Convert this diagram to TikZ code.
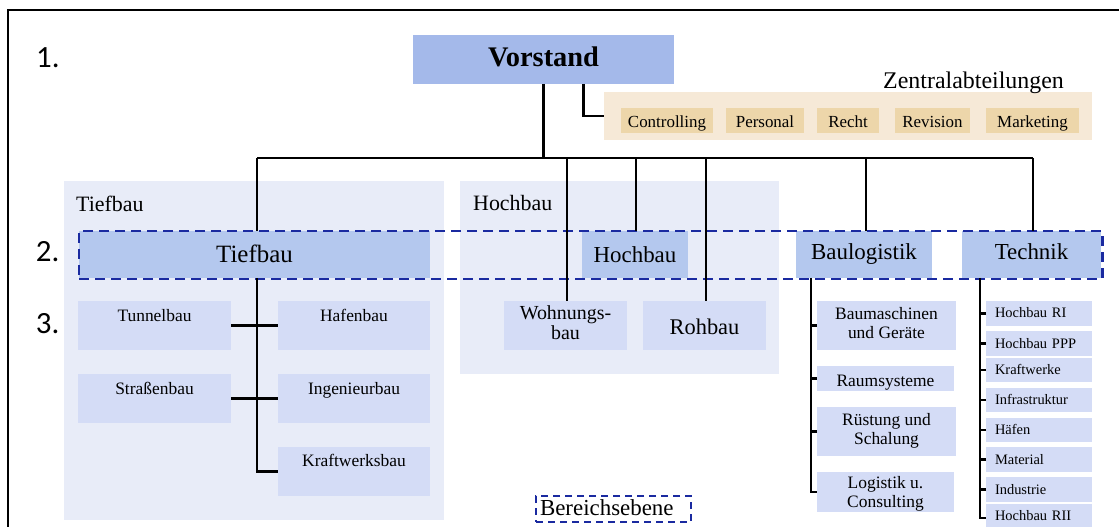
\documentclass[tikz,border=0pt]{standalone}
\usepackage{fontspec}
\setmainfont{Liberation Serif}
\newfontfamily\numfont{Carlito}
\usetikzlibrary{calc}

\definecolor{vorc}{HTML}{A4B9EA}
\definecolor{lvlc}{HTML}{B4C8EE}
\definecolor{areac}{HTML}{E8ECF8}
\definecolor{subc}{HTML}{D4DCF6}
\definecolor{zbg}{HTML}{F6E9D7}
\definecolor{zbox}{HTML}{EDD6AA}
\definecolor{dashc}{HTML}{1A2AA0}

\tikzset{
  % box placed by its upper left corner, given width and height
  box/.style 2 args={anchor=north west, inner sep=0pt, outer sep=0pt,
    minimum width=#1bp, minimum height=#2bp},
  % offset of the (last) text baseline from the box centre
  off/.code={\pgfmathsetmacro\tmpH{12+#1}\pgfmathsetmacro\tmpD{12-#1}%
    \edef\tmp{\noexpand\tikzset{text height=\tmpH bp, text depth=\tmpD bp}}\tmp},
  conn/.style={draw=black, line width=2.3pt},
  areabox/.style={fill=areac},
  toplvl/.style={fill=vorc, font=\bfseries\fontsize{28.5}{30}\selectfont},
  lvltwo/.style={fill=lvlc, font=\fontsize{23}{24}\selectfont},
  zsmall/.style={fill=zbox, font=\fontsize{17}{18}\selectfont},
  subbox/.style={fill=subc, font=\fontsize{17.5}{19}\selectfont, align=center},
  techbox/.style={fill=subc, font=\fontsize{14.5}{16}\selectfont,
    align=left, text width=88bp, inner xsep=9bp},
  arealbl/.style={anchor=base west, inner sep=0pt, font=\fontsize{22}{24}\selectfont},
  numlbl/.style={anchor=base west, inner sep=0pt, font=\numfont\fontsize{31}{33}\selectfont},
  ebene/.style={draw=dashc, line width=3pt, dash pattern=on 10bp off 6bp},
}

\begin{document}
\begin{tikzpicture}[x=1bp, y=-1bp]
\useasboundingbox (0,0) rectangle (1119,527);
\path[clip] (0,0) rectangle (1119,527);

% outer frame
\draw[line width=2.2pt] (8,540) -- (8,10) -- (1125,10);

% level numbers
\node[numlbl] (n1) at (36,67.7) {1.};
\node[numlbl] (n2) at (35.7,261.7) {2.};
\node[numlbl] (n3) at (35.7,334) {3.};

% top level and central departments
\node[box={261}{49}, toplvl, off=7.2] (vorstand) at (413,35) {Vorstand};
\node[box={488}{48}, fill=zbg] (zentral) at (604,92) {};
\node[anchor=base east, inner sep=0pt, font=\fontsize{24}{26}\selectfont]
  (zentrallbl) at (1064,89) {Zentralabteilungen};
\node[box={92}{25}, zsmall, off=7] (controlling) at (621,108) {Controlling};
\node[box={78}{25}, zsmall, off=7] (personal) at (726,108) {Personal};
\node[box={62}{25}, zsmall, off=7] (recht) at (817,108) {Recht};
\node[box={75}{25}, zsmall, off=7] (revision) at (895,108) {Revision};
\node[box={93}{25}, zsmall, off=7] (marketing) at (986,108) {Marketing};

% division areas
\node[box={380}{339}, areabox] (tiefarea) at (64,181) {};
\node[box={319}{193}, areabox] (hocharea) at (460,181) {};
\node[arealbl] (tieflbl) at (76,211.7) {Tiefbau};
\node[arealbl] (hochlbl) at (473,211) {Hochbau};

% second level
\node[box={351}{47}, lvltwo, off=7.8, font=\fontsize{25}{26}\selectfont] (tiefbau) at (79,231) {Tiefbau};
\node[box={106}{47}, lvltwo, off=7.8] (hochbau) at (582,231) {Hochbau};
\node[box={136}{47}, lvltwo, off=4.8] (baulog) at (796,231) {Baulogistik};
\node[box={139}{47}, lvltwo, off=4.8] (technik) at (962,231) {Technik};

% Tiefbau units
\node[box={153}{49}, subbox, off=-4] (tunnel) at (78,301) {Tunnelbau};
\node[box={152}{49}, subbox, off=-4] (hafen) at (278,301) {Hafenbau};
\node[box={153}{49}, subbox, off=-4.5] (strasse) at (78,374) {Straßenbau};
\node[box={152}{49}, subbox, off=-4.5] (ingenieur) at (278,374) {Ingenieurbau};
\node[box={152}{49}, subbox, off=-5.5] (kraftbau) at (278,447) {Kraftwerksbau};

% Hochbau units
\node[box={123}{49}, subbox, off=16.2, font=\fontsize{20}{20}\selectfont] (wohnung) at (504,301) {Wohnungs-\\bau};
\node[box={123}{49}, subbox, off=9.5, font=\fontsize{22.5}{24}\selectfont] (rohbau) at (643,301) {Rohbau};

% Baulogistik units
\node[box={139}{49}, subbox, off=14.5] (baumasch) at (817,301) {Baumaschinen\\und Geräte};
\node[box={137}{25}, subbox, off=7.5] (raum) at (817,366) {Raumsysteme};
\node[box={139}{49}, subbox, off=14.2] (ruestung) at (817,407) {Rüstung und\\Schalung};
\begin{scope}
  \clip (817,472) rectangle (954,512);
  \node[box={137}{40}, subbox, off=18] (logistik) at (817,472) {Logistik u.\\Consulting};
\end{scope}

% Technik units
\node[box={106}{25}, techbox, off=4.5] (hri) at (986,301) {Hochbau RI};
\node[box={106}{25}, techbox, off=4.5] (hppp) at (986,331) {Hochbau PPP};
\node[box={106}{24}, techbox, off=4.5] (kraftw) at (986,358) {Kraftwerke};
\node[box={106}{24}, techbox, off=4.5] (infra) at (986,388) {Infrastruktur};
\node[box={106}{24}, techbox, off=4.5] (haefen) at (986,418) {Häfen};
\node[box={106}{25}, techbox, off=4.5] (material) at (986,447) {Material};
\node[box={106}{25}, techbox, off=4.5] (industrie) at (986,477) {Industrie};
\node[box={106}{28}, techbox, off=2.5] (hrii) at (986,504) {Hochbau RII};

% divisional level frame and legend
\node[box={1023}{48}, ebene] (ebenebox) at (79,231) {};
\node[box={155}{26}, ebene, line width=2.5pt, dash pattern=on 7bp off 5bp,
  font=\fontsize{23}{24}\selectfont, align=left, text width=147bp, inner xsep=4bp, off=6]
  (legende) at (536,496) {Bereichsebene};

% connectors
\coordinate (bus) at (0,158);
\draw[conn] (vorstand.south) -- (vorstand.south |- bus);
\draw[conn] ([xshift=40bp]vorstand.south) |- (zentral.west);
\draw[conn] ([xshift=2.5bp]tiefbau.north |- bus) -- ([xshift=1.5bp]technik.north |- bus);
\draw[conn] ([xshift=2.5bp]tiefbau.north |- bus) -- ([xshift=2.5bp]tiefbau.north);
\draw[conn] ([xshift=1.5bp]wohnung.north |- bus) -- ([xshift=1.5bp]wohnung.north);
\draw[conn] ([xshift=1bp]hochbau.north |- bus) -- ([xshift=1bp]hochbau.north);
\draw[conn] ([xshift=1.5bp]rohbau.north |- bus) -- ([xshift=1.5bp]rohbau.north);
\draw[conn] ([xshift=2bp]baulog.north |- bus) -- ([xshift=2bp]baulog.north);
\draw[conn] ([xshift=1.5bp]technik.north |- bus) -- ([xshift=1.5bp]technik.north);

% Tiefbau tree
\draw[conn] ([xshift=2.5bp]tiefbau.south) |- (kraftbau.west);
\draw[conn] (tunnel.east) -- (hafen.west);
\draw[conn] (strasse.east) -- (ingenieur.west);

% Baulogistik tree
\draw[conn] ([xshift=15bp]baulog.south west) |- (logistik.west);
\foreach \n in {baumasch, raum, ruestung}
  \draw[conn] (\n.west) -- ++(-6,0);

% Technik tree
\draw[conn] ([xshift=18bp]technik.south west) |- (hrii.west);
\foreach \n in {hri, hppp, kraftw, infra, haefen, material, industrie}
  \draw[conn] (\n.west) -- ++(-6,0);
\end{tikzpicture}
\end{document}
